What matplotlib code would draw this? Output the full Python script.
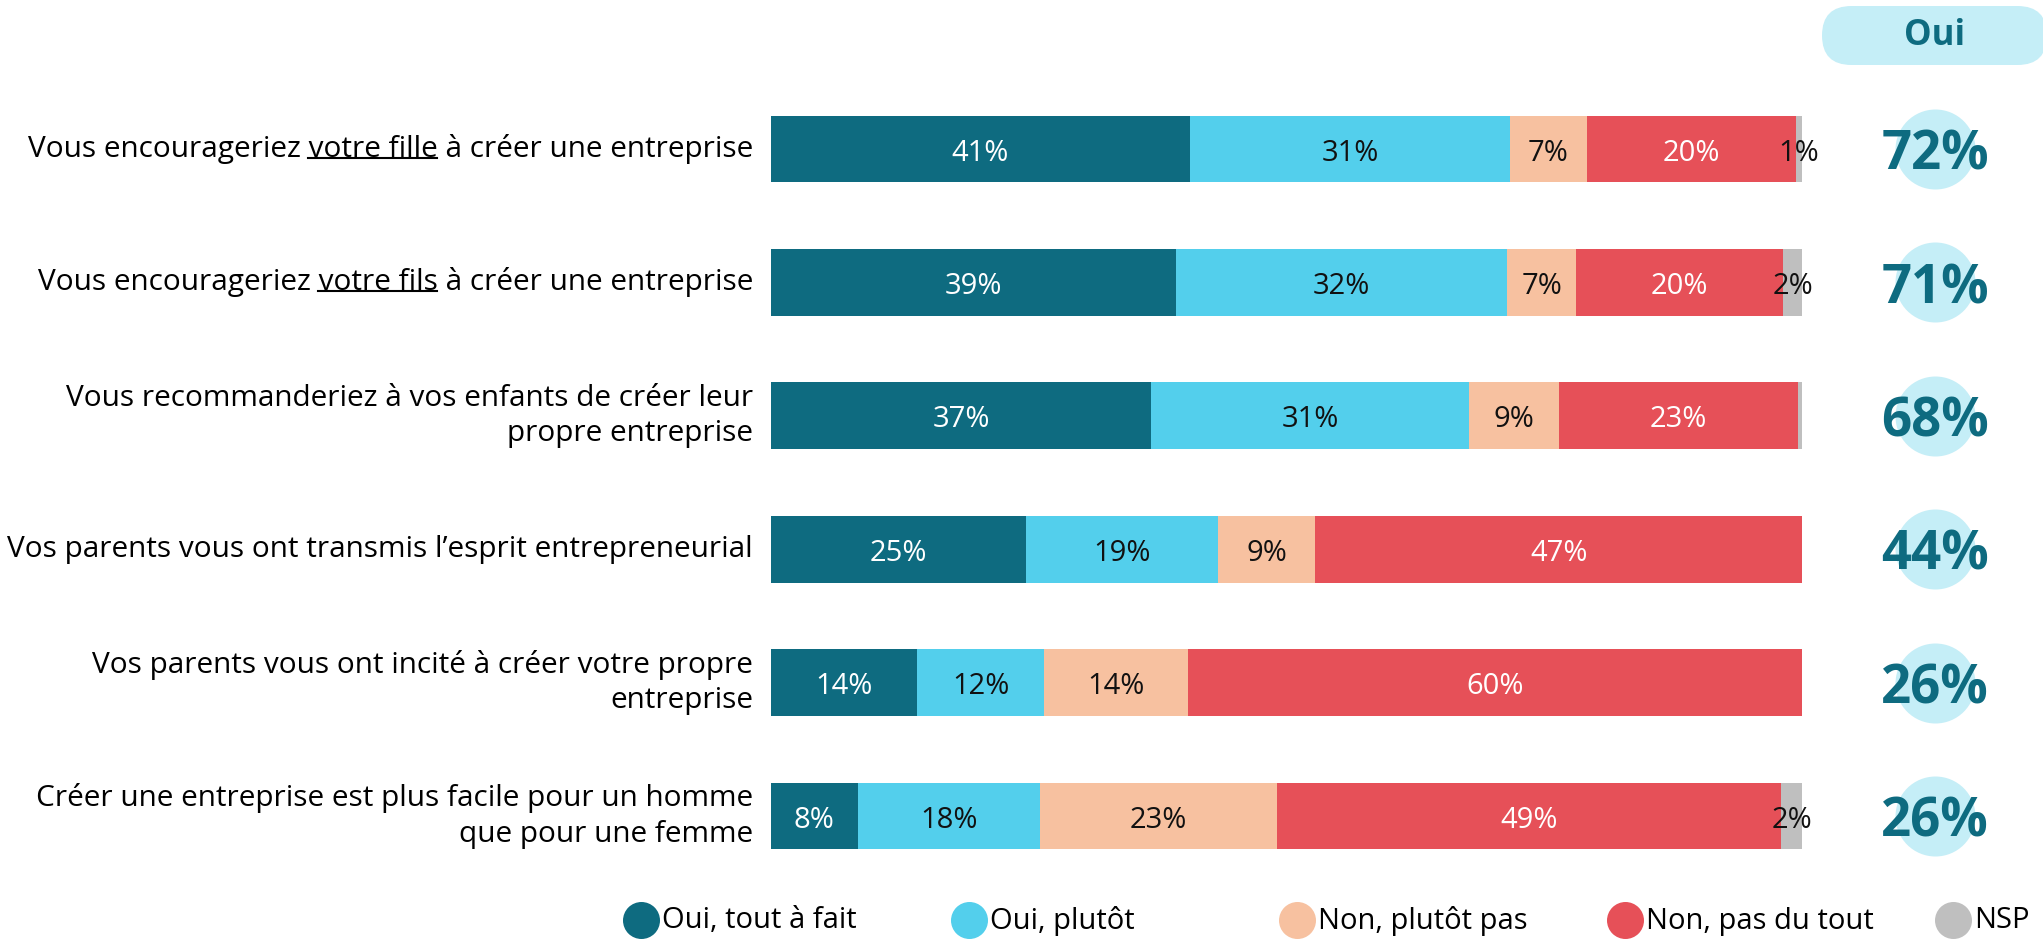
import matplotlib
matplotlib.use('Agg')
import matplotlib.pyplot as plt
from matplotlib.patches import FancyBboxPatch
from matplotlib.lines import Line2D
from matplotlib.transforms import IdentityTransform

plt.rcParams['font.family'] = ['Open Sans', 'DejaVu Sans']

# données
questions = [
    'Vous encourageriez votre fille à créer une entreprise',
    'Vous encourageriez votre fils à créer une entreprise',
    'Vous recommanderiez à vos enfants de créer leur\npropre entreprise',
    'Vos parents vous ont transmis l\u2019esprit entrepreneurial',
    'Vos parents vous ont incité à créer votre propre\nentreprise',
    'Créer une entreprise est plus facile pour un homme\nque pour une femme',
]
underlined = ['votre fille', 'votre fils', None, None, None, None]
series = ['Oui, tout à fait', 'Oui, plutôt', 'Non, plutôt pas', 'Non, pas du tout', 'NSP']
tout_a_fait = [40.6, 39.3, 36.9, 24.7, 14.2, 8.4]
plutot = [31.1, 32.1, 30.8, 18.7, 12.3, 17.7]
plutot_pas = [7.4, 6.7, 8.7, 9.4, 13.9, 23.0]
pas_du_tout = [20.3, 20.1, 23.2, 47.2, 59.6, 48.9]
nsp = [0.6, 1.8, 0.4, 0, 0, 2.0]
total_oui = [72, 71, 68, 44, 26, 26]

colors = ['#0E6B80', '#53CFEC', '#F7C1A0', '#E65058', '#BFBFBF']
text_colors = ['white', '#111111', '#111111', 'white', '#111111']
teal = '#0E6B80'
light = '#C5EEF7'

W, H = 2043, 940
fig = plt.figure(figsize=(W / 100, H / 100), dpi=100)

# axe principal : 0 -> x=771px, 100 -> x=1802px
ax = fig.add_axes([771 / W, 1 - 882.7 / H, 1031 / W, 800.4 / H])
ax.set_xlim(0, 100)
ax.set_ylim(5.5, -0.5)
ax.axis('off')

fs = 21
rows = list(range(len(questions)))
left = [0] * len(questions)
for vals, c, tc in zip([tout_a_fait, plutot, plutot_pas, pas_du_tout, nsp], colors, text_colors):
    ax.barh(rows, vals, left=left, height=0.5, color=c, linewidth=0)
    for i, v in enumerate(vals):
        if v >= 0.5:
            ax.text(left[i] + v / 2, i + 0.03, f'{int(v + 0.5)}%', ha='center', va='center',
                    fontsize=fs, color=tc)
    left = [l + v for l, v in zip(left, vals)]

# libellés des questions (avec soulignement)
renderer = fig.canvas.get_renderer()
for i, q in enumerate(questions):
    t = ax.text(-1.75, i, q, ha='right', va='center', fontsize=21.4, linespacing=1.28)
    u = underlined[i]
    if u:
        ext = t.get_window_extent(renderer)
        pre = q.split(u)[0]
        tmp = fig.text(0, 0, pre + u, fontsize=21.4)
        w_end = tmp.get_window_extent(renderer).width
        tmp.set_text(u)
        w_u = tmp.get_window_extent(renderer).width
        tmp.remove()
        x2 = ext.x0 + w_end
        x1 = x2 - w_u
        yl = ext.y0 + 6
        fig.add_artist(Line2D([x1, x2], [yl, yl], transform=IdentityTransform(),
                              color='black', linewidth=1.5))

# colonne "Oui"
xo = (1935 - 771) / 1031 * 100
ax.scatter([xo] * len(rows), rows, s=3318, color=light, linewidths=0, clip_on=False, zorder=3)
for i, v in enumerate(total_oui):
    ax.text(xo, i + 0.05, f'{v}%', ha='center', va='center', fontsize=38,
            fontweight='bold', color=teal, zorder=4)

ov = fig.add_axes([0, 0, 1, 1], zorder=-1)
ov.set_xlim(0, W)
ov.set_ylim(H, 0)
ov.axis('off')
ov.add_patch(FancyBboxPatch((1822, 6), 225, 59, boxstyle='round,pad=0,rounding_size=29.5',
                            facecolor=light, edgecolor='none'))
ov.text(1935, 36, 'Oui', ha='center', va='center', fontsize=25, fontweight='bold', color=teal)

# légende (colonnes de largeur égale)
for k, (lab, c) in enumerate(zip(series, colors)):
    xm = 641 + 328 * k
    ov.scatter([xm], [920], s=710, color=c, linewidths=0)
    ov.text(xm + 21, 921, lab, ha='left', va='center', fontsize=fs)

fig.savefig('out.png', dpi=100)
